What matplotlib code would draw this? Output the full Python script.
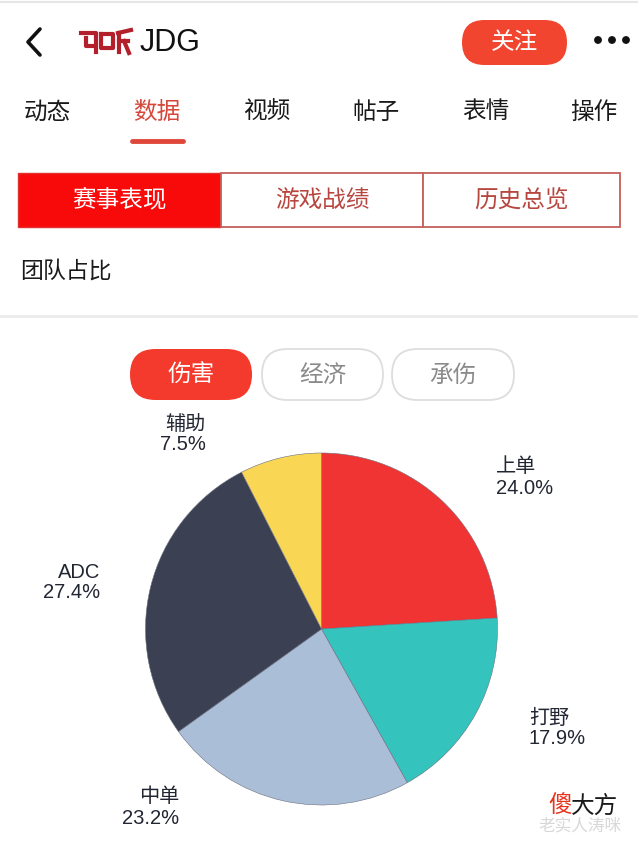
import matplotlib
matplotlib.use("Agg")
import matplotlib.pyplot as plt
from matplotlib.patches import FancyBboxPatch, Rectangle

# ---------------- data ----------------
roles = ["上单", "打野", "中单", "ADC", "辅助"]
shares = [24.0, 17.9, 23.2, 27.4, 7.5]
slice_colors = ["#F03434", "#35C3BE", "#ABBED8", "#3B4153", "#F9D654"]

nav_tabs = ["动态", "数据", "视频", "帖子", "表情", "操作"]
segments = ["赛事表现", "游戏战绩", "历史总览"]
pills = ["伤害", "经济", "承伤"]
team_name = "JDG"
follow_text = "关注"
section_title = "团队占比"

CJK = ["Noto Sans CJK SC", "DejaVu Sans"]
LAT = ["Liberation Sans", "Noto Sans CJK SC"]

W, H = 638, 843
fig = plt.figure(figsize=(W / 100, H / 100), dpi=100)
ui = fig.add_axes([0, 0, 1, 1])
ui.set_xlim(0, W)
ui.set_ylim(H, 0)
ui.axis("off")

# top hairline
ui.plot([0, W], [1.5, 1.5], color="#E6E6E6", lw=1.5)

# back chevron
ui.plot([40, 28, 40], [29, 42, 55], color="#111111", lw=2.6, solid_capstyle="round",
        solid_joinstyle="round")

# logo (approximate red glyph)
logo_c = "#B3202C"
ui.plot([81, 96, 96], [33, 33, 52], color=logo_c, lw=3)
ui.plot([86, 86, 92], [38, 46, 46], color=logo_c, lw=3)
ui.plot([101, 113, 113, 101, 101], [34, 34, 48, 48, 34], color=logo_c, lw=3)
ui.plot([118, 131], [33, 30], color=logo_c, lw=3)
ui.plot([119, 119], [33, 52], color=logo_c, lw=3)
ui.plot([119, 128], [41, 41], color=logo_c, lw=3)
ui.plot([124, 129], [41, 53], color=logo_c, lw=3)

ui.text(140, 43, team_name, fontsize=22, family=LAT, color="#111111", va="center", ha="left")

# follow button
ui.add_patch(FancyBboxPatch((462, 20), 105, 45, boxstyle="round,pad=0,rounding_size=22.5",
                            fc="#F2452F", ec="none"))
ui.text(514.5, 42.5, follow_text, fontsize=17, family=CJK, color="white", ha="center", va="center")

# more dots
for x in (598, 612, 626):
    ui.add_patch(plt.Circle((x, 40), 3.2, color="#111111"))

# nav tabs
tab_x = [47, 157, 267, 376, 486, 594]
for t, x in zip(nav_tabs, tab_x):
    ui.text(x, 112, t, fontsize=17, family=CJK, ha="center", va="center",
            color="#D5473B" if t == "数据" else "#1A1A1A")
ui.plot([132, 183], [140.5, 140.5], color="#E0473B", lw=3.5, solid_capstyle="round")

# segmented control
seg_edges = [18, 221, 423, 620]
seg_top, seg_bot = 173, 227
for i, s in enumerate(segments):
    x0, x1 = seg_edges[i], seg_edges[i + 1]
    if i == 0:
        ui.add_patch(Rectangle((x0, seg_top), x1 - x0, seg_bot - seg_top, fc="#F80A0A", ec="#E03030", lw=1))
        col = "white"
    else:
        ui.add_patch(Rectangle((x0, seg_top), x1 - x0, seg_bot - seg_top, fc="white", ec="#C4605B", lw=1.3))
        col = "#B7463F"
    ui.text((x0 + x1) / 2, 200, s, fontsize=17, family=CJK, color=col, ha="center", va="center")

# section title
ui.text(20, 271, section_title, fontsize=16.5, family=CJK, color="#1A1A1A", ha="left", va="center")
ui.plot([0, W], [316, 316], color="#EBEBEB", lw=2)

# pills
pill_x = [(130, 252), (262, 383), (392, 514)]
for i, (p, (x0, x1)) in enumerate(zip(pills, pill_x)):
    if i == 0:
        ui.add_patch(FancyBboxPatch((x0, 349), x1 - x0, 51, boxstyle="round,pad=0,rounding_size=25.5",
                                    fc="#F43A2C", ec="none"))
        col = "white"
    else:
        ui.add_patch(FancyBboxPatch((x0, 349), x1 - x0, 51, boxstyle="round,pad=0,rounding_size=25.5",
                                    fc="white", ec="#DDDDDD", lw=1.3))
        col = "#8A8A8A"
    ui.text((x0 + x1) / 2, 375, p, fontsize=17, family=CJK, color=col, ha="center", va="center")

# ---------------- pie ----------------
cx, cy, r = 321.5, 629, 176
pie_ax = fig.add_axes([(cx - r) / W, 1 - (cy + r) / H, 2 * r / W, 2 * r / H])
pie_ax.pie(shares, colors=slice_colors, startangle=90, counterclock=False,
           wedgeprops=dict(linewidth=0.4, edgecolor="#6B7080"))
pie_ax.set_aspect("equal")
pie_ax.set_xlim(-1, 1)
pie_ax.set_ylim(-1, 1)
pie_ax.axis("off")

# labels (name + percent)
label_pos = {
    "上单": (496, 467, "left"),
    "打野": (529, 718, "left"),
    "中单": (179, 797, "right"),
    "ADC": (100, 572, "right"),
    "辅助": (206, 424, "right"),
}
for name, val in zip(roles, shares):
    x, y, ha = label_pos[name]
    ui.text(x, y, name, fontsize=14.5, family=LAT if name == "ADC" else CJK,
            color="#222633", ha=ha, va="center")
    ui.text(x, y + 21, f"{val:.1f}%", fontsize=14.5, family=LAT, color="#222633", ha=ha, va="center")

# watermark
ui.text(548, 806, "傻", fontsize=17, family=CJK, color="#E8341F", ha="left", va="center")
ui.text(571, 806, "大方", fontsize=17, family=CJK, color="#1A1A1A", ha="left", va="center")
ui.text(538, 826, "老实人涛咪", fontsize=12, family=CJK, color="#D8D8D8", ha="left", va="center")

fig.savefig("out.png", dpi=100)
